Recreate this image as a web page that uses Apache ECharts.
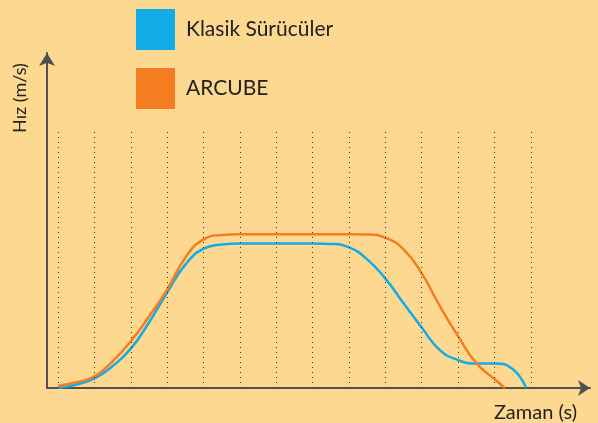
<!DOCTYPE html>
<html>
<head>
<meta charset="utf-8">
<title>Hız - Zaman</title>
<script src="https://cdn.jsdelivr.net/npm/echarts@6/dist/echarts.min.js"></script>
<style>
html, body { margin: 0; padding: 0; background: #FCD891; }
#chart { width: 598px; height: 423px; }
</style>
</head>
<body>
<div id="chart"></div>
<script>
// time ticks where the dotted guides sit
var timeTicks = [1, 2, 3, 4, 5, 6, 7, 8, 9, 10, 11, 12, 13, 14]
var guideTop = 259

// Klasik Sürücüler [time, speed]
var klasikData = [
  [1.0, 0.3], [1.5, 3.5], [2.0, 9.7], [2.5, 22], [3.0, 39.7], [3.5, 66],
  [4.0, 96], [4.5, 124], [5.0, 139.7], [5.5, 144], [6.0, 145], [7.0, 145],
  [8.0, 145], [8.5, 144.5], [9.0, 141], [9.5, 129], [10.0, 109.7], [10.5, 85],
  [11.0, 60.7], [11.5, 38], [12.0, 28], [12.5, 24.5], [13.0, 24.5], [13.5, 19],
  [13.87, 0.3]
]

// ARCUBE [time, speed]
var arcubeData = [
  [1.0, 2.3], [1.5, 5.7], [2.0, 11.7], [2.5, 27], [3.0, 47], [3.5, 72],
  [4.0, 99], [4.5, 131], [5.0, 149], [5.5, 153.5], [6.0, 154.3], [7.0, 154.3],
  [8.0, 154.3], [9.0, 154.3], [9.5, 154], [10.0, 150.7], [10.5, 139], [11.0, 115],
  [11.5, 82], [12.0, 52], [12.5, 25], [13.0, 9], [13.29, 0]
]

var chart = echarts.init(document.getElementById('chart'))

var guides = timeTicks.map(function (t) {
  return [{coord: [t, 0]}, {coord: [t, guideTop]}]
})

chart.setOption({
  backgroundColor: '#FCD891',
  animation: false,
  textStyle: {fontFamily: 'Lato'},
  grid: {left: 47, right: 8, top: 53, bottom: 34},
  legend: {
    data: ['Klasik Sürücüler', 'ARCUBE'],
    orient: 'vertical',
    left: 131,
    top: 4,
    icon: 'rect',
    itemWidth: 39,
    itemHeight: 41,
    itemGap: 18,
    textStyle: {fontSize: 21, color: '#222', padding: [0, 0, 0, 6]}
  },
  xAxis: {
    type: 'value',
    min: 0.69,
    max: 15.63,
    axisLine: {
      show: true,
      symbol: ['none', 'arrow'],
      symbolSize: [12, 12],
      lineStyle: {color: '#505050', width: 2}
    },
    axisTick: {show: false},
    axisLabel: {show: false},
    splitLine: {show: false},
    name: 'Zaman (s)',
    nameLocation: 'end',
    nameGap: -13,
    nameTextStyle: {
      fontSize: 20,
      color: '#222',
      align: 'right',
      verticalAlign: 'top',
      padding: [15, 0, 0, 0]
    }
  },
  yAxis: {
    type: 'value',
    min: 0,
    max: 336,
    axisLine: {
      show: true,
      symbol: ['none', 'arrow'],
      symbolSize: [12, 13],
      lineStyle: {color: '#505050', width: 2}
    },
    axisTick: {show: false},
    axisLabel: {show: false},
    splitLine: {show: false}
  },
  graphic: [{
    type: 'text',
    x: 20,
    y: 98,
    rotation: Math.PI / 2,
    style: {
      text: 'Hız (m/s)',
      font: '18px Lato',
      fill: '#222',
      align: 'center',
      verticalAlign: 'middle'
    }
  }],
  series: [
    {
      name: 'guides',
      type: 'line',
      data: [],
      z: 1,
      silent: true,
      markLine: {
        silent: true,
        symbol: 'none',
        label: {show: false},
        lineStyle: {color: '#3e3220', type: [1, 4], width: 1},
        data: guides
      }
    },
    {
      name: 'Klasik Sürücüler',
      type: 'line',
      data: klasikData,
      smooth: 0.5,
      showSymbol: false,
      z: 3,
      color: '#12ACE8',
      lineStyle: {width: 2.5, color: '#12ACE8'}
    },
    {
      name: 'ARCUBE',
      type: 'line',
      data: arcubeData,
      smooth: 0.5,
      showSymbol: false,
      z: 3,
      color: '#F47D22',
      lineStyle: {width: 2.5, color: '#F47D22'}
    }
  ]
})
</script>
</body>
</html>
